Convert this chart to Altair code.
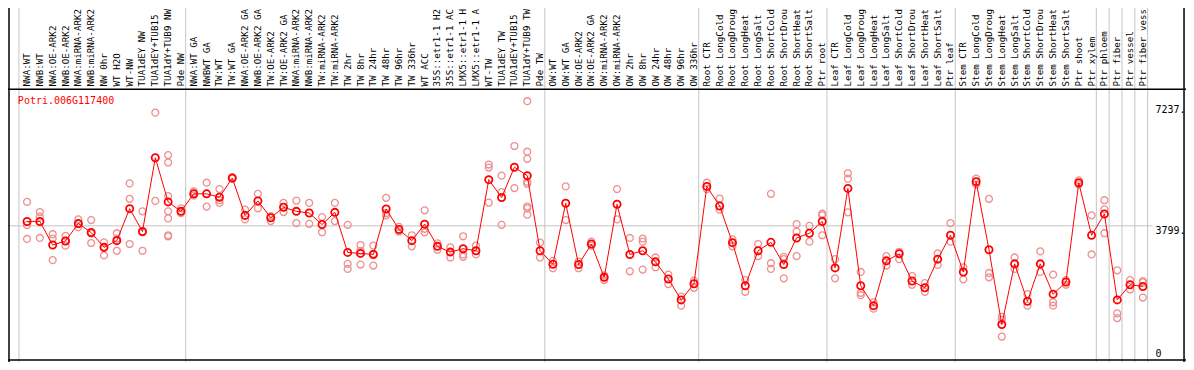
import altair as alt
import pandas as pd

# ---------------- data ----------------
samples = [
    "NWA:WT", "NWB:WT", "NWA:OE-ARK2", "NWB:OE-ARK2", "NWA:miRNA-ARK2", "NWB:miRNA-ARK2",
    "NW 0hr", "WT H2O", "WT-NW", "TUA1dEY NW", "TUA1dEY+TUB15", "TUA1dY+TUB9 NW", "Pde NW",
    "NWA:WT GA", "NWBWT GA", "TW:WT", "TW:WT GA", "NWA:OE-ARK2 GA", "NWB:OE-ARK2 GA",
    "TW:OE-ARK2", "TW:OE-ARK2 GA", "NWA:miRNA-ARK2", "NWB:miRNA-ARK2", "TW:miRNA-ARK2",
    "TW:miRNA-ARK2", "TW 2hr", "TW 8hr", "TW 24hr", "TW 48hr", "TW 96hr", "TW 336hr",
    "WT ACC", "35S::etr1-1 H2", "35S::etr1-1 AC", "LMX5::etr1-1 H", "LMX5::etr1-1 A",
    "WT-TW", "TUA1dEY TW", "TUA1dEY+TUB15", "TUA1dY+TUB9 TW", "Pde TW",
    "OW:WT", "OW:WT GA", "OW:OE-ARK2", "OW:OE-ARK2 GA", "OW:miRNA-ARK2", "OW:miRNA-ARK2",
    "OW 2hr", "OW 8hr", "OW 24hr", "OW 48hr", "OW 96hr", "OW 336hr",
    "Root CTR", "Root LongCold", "Root LongDroug", "Root LongHeat", "Root LongSalt",
    "Root ShortCold", "Root ShortDrou", "Root ShortHeat", "Root ShortSalt", "Ptr root",
    "Leaf CTR", "Leaf LongCold", "Leaf LongDroug", "Leaf LongHeat", "Leaf LongSalt",
    "Leaf ShortCold", "Leaf ShortDrou", "Leaf ShortHeat", "Leaf ShortSalt", "Ptr leaf",
    "Stem CTR", "Stem LongCold", "Stem LongDroug", "Stem LongHeat", "Stem LongSalt",
    "Stem ShortCold", "Stem ShortDrou", "Stem ShortHeat", "Stem ShortSalt", "Ptr shoot",
    "Ptr xylem", "Ptr phloem", "Ptr fiber", "Ptr vessel", "Ptr fiber vess",
]

means = [
    3930, 3930, 3230, 3350, 3870, 3600, 3160, 3360, 4310, 3630, 5820, 4510, 4230,
    4750, 4750, 4650, 5220, 4110, 4540, 4040, 4350, 4230, 4180, 3840, 4200,
    3010, 2980, 2950, 4300, 3690, 3360, 3850, 3190, 3020, 3120, 3060,
    5170, 4640, 5540, 5290, 3060,
    2660, 4470, 2650, 3260, 2270, 4440, 2950, 3060, 2730, 2220, 1600, 2080,
    4970, 4390, 3300, 2020, 3060, 3310, 2650, 3440, 3580, 3930,
    2550, 4910, 2020, 1430, 2760, 2970, 2160, 1960, 2810, 3520,
    2430, 5110, 3090, 870, 2670, 1560, 2670, 1770, 2130, 5080,
    3520, 4150, 1600, 2050, 2000,
]

replicates = [
    [4510, 3820, 3410], [4210, 4070, 3440], [3550, 3420, 2780], [3500, 3350, 3210],
    [3990, 3850, 3760], [3970, 3570, 3290], [3310, 3170, 2920], [3580, 3420, 3060],
    [5060, 4600, 3260], [4230, 3610, 3060], [7160, 4540],
    [5900, 5680, 4680, 4230, 4020, 3520, 3490], [4320, 4180],
    [4820, 4700], [5080, 4370], [4890, 4560, 4480], [5240, 5200], [4280, 3990],
    [4750, 4320], [4090, 3940], [4480, 4210], [4550, 3880], [4480, 3860],
    [4060, 3610], [4480, 3940], [3830, 2670, 2520], [3230, 3060, 2650],
    [3210, 2970, 2620], [4630, 4180, 4110], [3770, 3630], [3520, 3190],
    [4260, 3710, 3610], [3280, 3090], [3160, 2860], [3490, 2950, 2880], [3210, 2950],
    [5620, 5530, 4490], [5290, 4800, 3830], [6170, 4920],
    [7500, 6000, 5790, 5110, 5050, 4370, 4320, 4130], [3300, 2860],
    [2760, 2540], [4970, 3970], [2740, 2540], [3330, 3210], [2330, 2190], [4890, 3990],
    [3440, 2450], [3420, 3330, 2500], [2860, 2570], [2350, 2070], [1700, 1430], [2170, 1960],
    [5080, 4890], [4610, 4280], [3400, 3190], [2190, 1840], [3260, 2900],
    [4750, 2690, 2520], [2880, 2810, 2240], [3850, 3630, 2900], [3800, 3330],
    [4160, 4110, 3520],
    [2810, 2240], [5360, 5200, 4200], [2430, 1810, 1740], [1530, 1340], [2900, 2620],
    [3030, 2810], [2310, 2050], [2100, 1840], [2980, 2640], [3880, 3330],
    [2570, 2210], [5200, 5030], [4600, 2400, 2270], [1100, 1010, 510], [2860, 2520],
    [1770, 1430], [3040, 2430], [2350, 1530, 1430], [2190, 2050], [5150, 5030],
    [4110, 2950], [4560, 4290, 3580], [2480, 1200, 1060], [2190, 1910], [2160, 2120, 1670],
]

group_ends = [0, 13, 41, 53, 63, 73, 84, 85, 86, 87, 88]
axis_values = [7237, 3799, 0]
axis_texts = ["7237.", "3799.", "0"]
gene_id = "Potri.006G117400"

# ---------------- layout ----------------
W, H = 1178, 354
REF_W, REF_H = 1194, 370
sx, sy = W / REF_W, H / REF_H
COL0, COLSTEP = 6.3, 13.0          # column i sits at COL0 + COLSTEP * i (reference px)
Y_MID_PX, PX_PER_UNIT = 227.7, 0.0352

x_scale = alt.Scale(domain=[(0 - COL0) / COLSTEP, (REF_W - COL0) / COLSTEP], nice=False, zero=False)
y_scale = alt.Scale(domain=[3799 - (REF_H - Y_MID_PX) / PX_PER_UNIT, 3799 + Y_MID_PX / PX_PER_UNIT],
                    nice=False, zero=False)

idx = list(range(1, len(samples) + 1))
df_mean = pd.DataFrame({"idx": idx, "label": samples, "mean": means})
df_rep = pd.DataFrame([{"idx": i, "value": v} for i, reps in zip(idx, replicates) for v in reps])
df_sep = pd.DataFrame({"pos": [g + 0.37 for g in group_ends]})
df_axis = pd.DataFrame({"v": axis_values, "t": axis_texts})
df_one = pd.DataFrame({"a": [0]})

X = lambda f: alt.X(f, type="quantitative", scale=x_scale, axis=None)
Y = lambda f: alt.Y(f, type="quantitative", scale=y_scale, axis=None)

GRAY = "#c4c4c4"
MONO = "DejaVu Sans Mono"

seps = alt.Chart(df_sep).mark_rule(color=GRAY, strokeWidth=1).encode(x=X("pos"))

midline = alt.Chart(df_axis).transform_filter(alt.datum.v == 3799).mark_rule(
    color=GRAY, strokeWidth=1).encode(y=Y("v"), x=alt.value(0), x2=alt.value(1160 * sx))

frame_h = alt.Chart(df_one).mark_rule(color="black", strokeWidth=1.5).encode(
    x=alt.value(0), x2=alt.value(W), y=alt.value(85 * sy))
frame_b = alt.Chart(df_one).mark_rule(color="black", strokeWidth=1.5).encode(
    x=alt.value(0), x2=alt.value(W), y=alt.value(368 * sy))
frame_l = alt.Chart(df_one).mark_rule(color="black", strokeWidth=1.5).encode(
    x=alt.value(1), y=alt.value(0), y2=alt.value(H))
frame_r = alt.Chart(df_one).mark_rule(color="black", strokeWidth=1.5).encode(
    x=alt.value(1192 * sx), y=alt.value(0), y2=alt.value(H))

reps = alt.Chart(df_rep).mark_point(shape="circle", filled=False, color="#ee9090",
                                    size=48, strokeWidth=1.3, opacity=1).encode(
    x=X("idx"), y=Y("value"))

line = alt.Chart(df_mean).mark_line(color="#ff0000", strokeWidth=1).encode(
    x=X("idx"), y=Y("mean"))

pts = alt.Chart(df_mean).mark_point(shape="circle", filled=False, color="#ff0000",
                                    size=52, strokeWidth=1.8, opacity=1).encode(
    x=X("idx"), y=Y("mean"))

labels = alt.Chart(df_mean).mark_text(angle=270, align="left", baseline="middle",
                                      font=MONO, fontSize=9.2, color="black").encode(
    x=X("idx"), y=alt.value(83 * sy - 1), text="label:N")

title = alt.Chart(pd.DataFrame({"t": [gene_id]})).mark_text(
    align="left", baseline="middle", font=MONO, fontSize=10, color="#ff0000").encode(
    x=alt.value(10 * sx), y=alt.value(97 * sy), text="t:N")

ax_a = alt.Chart(df_axis).transform_filter(alt.datum.v != 3799).mark_text(
    align="left", baseline="middle", font=MONO, fontSize=10, color="black").encode(
    x=alt.value(1163 * sx), y=Y("v"), text="t:N")
ax_b = alt.Chart(df_axis).transform_filter(alt.datum.v == 3799).mark_text(
    align="left", baseline="middle", font=MONO, fontSize=10, color="black", dy=5).encode(
    x=alt.value(1163 * sx), y=Y("v"), text="t:N")

chart = alt.layer(
    seps, midline, frame_h, frame_b, frame_l, frame_r, reps, line, pts, labels, title, ax_a, ax_b
).properties(
    width=W, height=H, padding=0, autosize=alt.AutoSizeParams(type="none"), background="white"
).configure_view(strokeWidth=0)

chart.save("out.html", embed_options={"renderer": "svg", "actions": False})
